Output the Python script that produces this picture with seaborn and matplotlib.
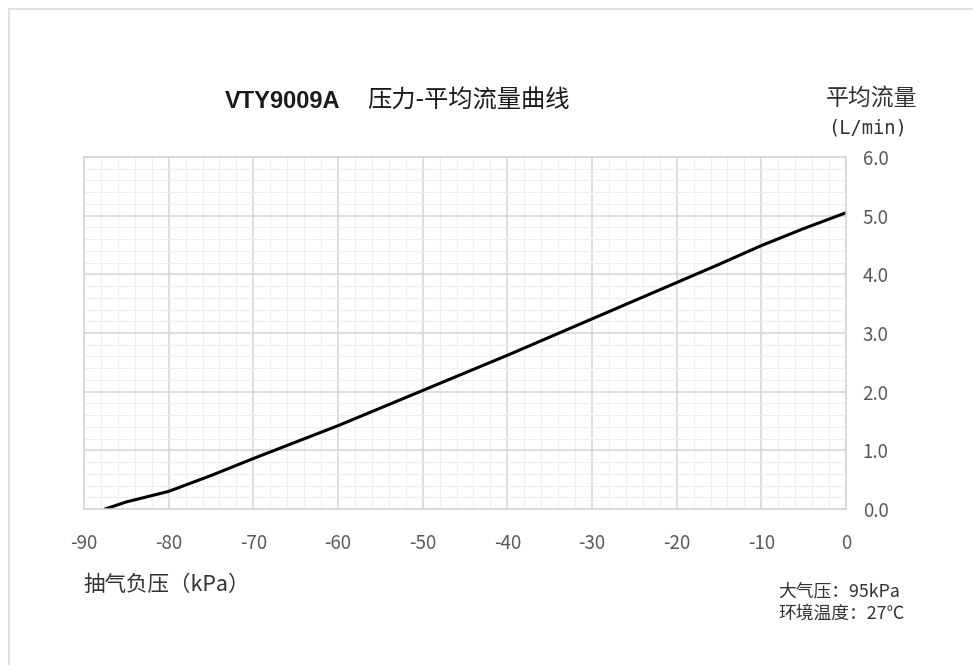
import matplotlib
matplotlib.use("Agg")
import matplotlib.pyplot as plt
import matplotlib.patches as mpatches
from matplotlib.ticker import MultipleLocator
import seaborn as sns
import pandas as pd

# data
pressure = [-87.5, -85, -80, -75, -70, -65, -60, -55, -50, -45, -40, -35, -30, -25, -20, -15, -10, -5, 0]
flow = [0.0, 0.12, 0.30, 0.57, 0.86, 1.14, 1.42, 1.72, 2.02, 2.32, 2.62, 2.93, 3.24, 3.55, 3.86, 4.17, 4.49, 4.78, 5.05]
x_ticks = [-90, -80, -70, -60, -50, -40, -30, -20, -10, 0]
y_ticks = [0.0, 1.0, 2.0, 3.0, 4.0, 5.0, 6.0]

df = pd.DataFrame({"pressure": pressure, "flow": flow})

sns.set_style("white")
plt.rcParams['font.family'] = ['Noto Sans CJK SC', 'DejaVu Sans']

fig = plt.figure(figsize=(9.73, 6.65), dpi=100)
# faint frame around the picture
fig.patches.append(mpatches.Rectangle((0.009, -0.01), 1.0, 0.996, transform=fig.transFigure,
                                      fill=False, edgecolor="#dcdcdc", linewidth=1.2))
ax = fig.add_axes([0.0863, 0.2346, 0.7832, 0.5293])

sns.lineplot(data=df, x="pressure", y="flow", ax=ax, color="black", linewidth=2.2)

ax.set_xlim(-90, 0)
ax.set_ylim(0, 6)
ax.set_xticks(x_ticks)
ax.set_yticks(y_ticks)
ax.set_xticklabels([str(v) for v in x_ticks])
ax.set_yticklabels([f"{v:.1f}" for v in y_ticks])
ax.xaxis.set_minor_locator(MultipleLocator(2))
ax.yaxis.set_minor_locator(MultipleLocator(0.2))
ax.grid(which="major", color="#d4d4d4", linewidth=1.1)
ax.grid(which="minor", color="#efefef", linewidth=0.8)
ax.set_axisbelow(True)
for s in ax.spines.values():
    s.set_color("#d4d4d4")
    s.set_linewidth(1.1)

ax.yaxis.tick_right()
ax.tick_params(axis="both", which="both", length=0, labelsize=13.5, labelcolor="#595959")
ax.tick_params(axis="x", pad=17)
ax.tick_params(axis="y", pad=12)
ax.set_xlabel("")
ax.set_ylabel("")

fig.text(0.350, 0.848, "VTY9009A", fontsize=17, fontweight="bold", ha="right", va="center",
         family=["Liberation Sans Narrow", "Liberation Sans", "DejaVu Sans"], color="#1a1a1a")
fig.text(0.377, 0.848, "压力-平均流量曲线", fontsize=17.5, ha="left", va="center", color="#1a1a1a")
fig.text(0.896, 0.852, "平均流量", fontsize=16.5, ha="center", va="center", color="#333333")
fig.text(0.892, 0.807, "(L/min)", fontsize=13.5, ha="center", va="center", color="#333333",
         family=["DejaVu Sans Mono", "DejaVu Sans"])
fig.text(0.086, 0.121, "抽气负压（kPa）", fontsize=15.5, ha="left", va="center", color="#333333")
fig.text(0.800, 0.111, "大气压：95kPa", fontsize=12.8, ha="left", va="center", color="#333333")
fig.text(0.800, 0.077, "环境温度：27℃", fontsize=12.8, ha="left", va="center", color="#333333")

plt.savefig("out.png", dpi=100)
plt.close()
